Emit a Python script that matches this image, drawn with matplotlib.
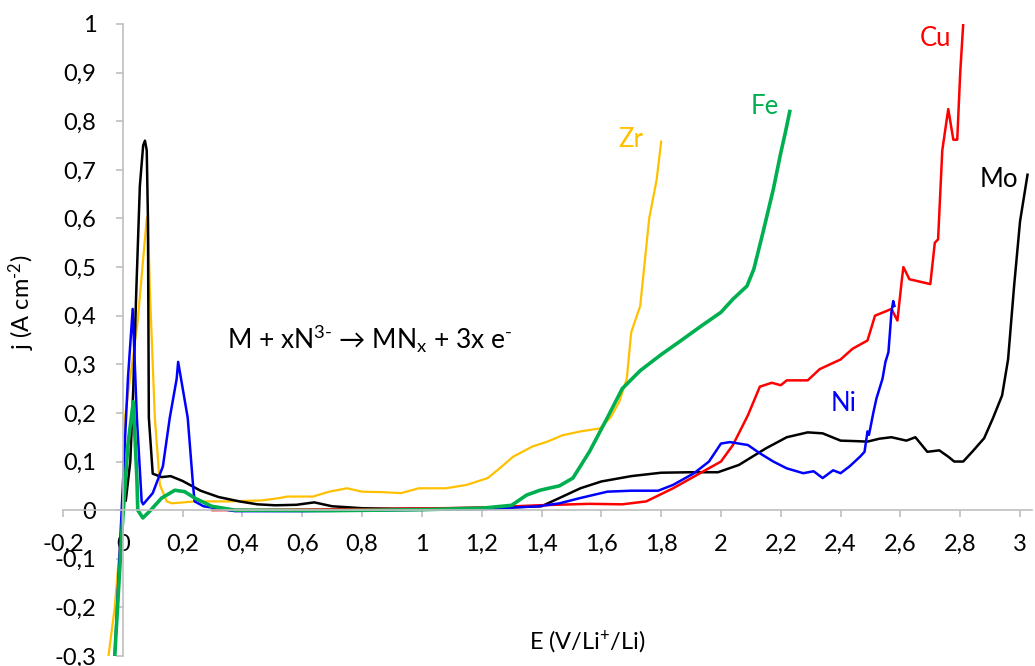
import matplotlib
matplotlib.use("Agg")
import matplotlib.pyplot as plt
from matplotlib.ticker import FuncFormatter, MultipleLocator

plt.rcParams['font.family'] = ['Lato', 'DejaVu Sans']
plt.rcParams['mathtext.fontset'] = 'custom'
plt.rcParams['mathtext.rm'] = 'Lato'
plt.rcParams['mathtext.it'] = 'Lato'
plt.rcParams['axes.unicode_minus'] = False

# Mo (black)
mo_x = [0.01, 0.025, 0.035, 0.045, 0.057, 0.068, 0.074, 0.08, 0.084, 0.087, 0.10, 0.13, 0.16,
        0.20, 0.26, 0.32, 0.39, 0.45, 0.51, 0.58, 0.64, 0.70, 0.80, 0.90, 1.0, 1.1, 1.2, 1.3,
        1.40, 1.46, 1.53, 1.60, 1.70, 1.80, 1.90, 1.99, 2.06, 2.15, 2.22, 2.29, 2.34, 2.40,
        2.45, 2.49, 2.53, 2.57, 2.62, 2.65, 2.69, 2.73, 2.76, 2.78, 2.81, 2.84, 2.88, 2.91,
        2.94, 2.96, 2.98, 3.0, 3.025]
mo_y = [0.02, 0.10, 0.25, 0.45, 0.667, 0.75, 0.76, 0.74, 0.60, 0.19, 0.075, 0.068, 0.07,
        0.06, 0.04, 0.027, 0.018, 0.012, 0.01, 0.011, 0.016, 0.008, 0.004, 0.003, 0.003, 0.004,
        0.005, 0.006, 0.008, 0.025, 0.045, 0.059, 0.07, 0.077, 0.078, 0.078, 0.093, 0.127,
        0.15, 0.16, 0.158, 0.143, 0.142, 0.141, 0.147, 0.15, 0.143, 0.15, 0.12, 0.123, 0.11,
        0.10, 0.10, 0.12, 0.148, 0.19, 0.236, 0.31, 0.46, 0.594, 0.69]

# Cu (red)
cu_x = [0.30, 0.8, 1.2, 1.39, 1.56, 1.67, 1.75, 1.84, 1.93, 2.0, 2.04, 2.09, 2.13, 2.17, 2.20,
        2.22, 2.29, 2.33, 2.40, 2.44, 2.49, 2.515, 2.555, 2.57, 2.59, 2.605, 2.61, 2.63, 2.70,
        2.715, 2.726, 2.74, 2.76, 2.777, 2.79, 2.80, 2.81]
cu_y = [0.0, 0.002, 0.005, 0.01, 0.013, 0.012, 0.018, 0.045, 0.076, 0.10, 0.134, 0.195, 0.254,
        0.262, 0.257, 0.267, 0.267, 0.29, 0.31, 0.332, 0.349, 0.40, 0.41, 0.414, 0.39, 0.475,
        0.50, 0.475, 0.465, 0.55, 0.557, 0.74, 0.825, 0.762, 0.762, 0.90, 1.0]

# Ni (blue)
ni_x = [-0.027, 0.0, 0.017, 0.033, 0.047, 0.063, 0.068, 0.10, 0.134, 0.157, 0.18, 0.185, 0.217,
        0.235, 0.24, 0.27, 0.375, 0.6, 0.9, 1.2, 1.39, 1.46, 1.53, 1.62, 1.70, 1.79, 1.84, 1.91,
        1.96, 2.0, 2.03, 2.09, 2.13, 2.175, 2.22, 2.275, 2.31, 2.34, 2.375, 2.40, 2.43, 2.465,
        2.48, 2.49, 2.495, 2.51, 2.52, 2.54, 2.55, 2.56, 2.57, 2.576, 2.58]
ni_y = [-0.30, 0.05, 0.27, 0.414, 0.19, 0.018, 0.012, 0.035, 0.09, 0.19, 0.27, 0.305, 0.19,
        0.05, 0.018, 0.008, -0.002, -0.002, 0.0, 0.002, 0.008, 0.014, 0.025, 0.038, 0.04, 0.04,
        0.052, 0.076, 0.10, 0.137, 0.14, 0.134, 0.117, 0.10, 0.086, 0.076, 0.08, 0.066, 0.082,
        0.076, 0.09, 0.11, 0.12, 0.162, 0.155, 0.202, 0.23, 0.27, 0.305, 0.325, 0.407, 0.43, 0.42]

# Fe (green)
fe_x = [-0.027, -0.003, 0.017, 0.035, 0.047, 0.05, 0.067, 0.09, 0.13, 0.174, 0.207, 0.24, 0.297,
        0.375, 0.7, 1.0, 1.2, 1.30, 1.35, 1.395, 1.46, 1.505, 1.56, 1.62, 1.67, 1.73, 1.80, 1.86,
        1.93, 2.0, 2.04, 2.087, 2.11, 2.14, 2.175, 2.20, 2.215, 2.23]
fe_y = [-0.30, -0.043, 0.134, 0.223, 0.066, 0.0, -0.016, -0.002, 0.025, 0.041, 0.038, 0.025,
        0.008, 0.0, -0.001, 0.001, 0.004, 0.01, 0.031, 0.041, 0.05, 0.066, 0.12, 0.19, 0.25,
        0.287, 0.32, 0.346, 0.377, 0.407, 0.434, 0.461, 0.496, 0.57, 0.66, 0.735, 0.776, 0.82]

# Zr (yellow)
zr_x = [-0.05, -0.027, 0.0, 0.007, 0.05, 0.08, 0.084, 0.09, 0.107, 0.124, 0.147, 0.164, 0.24,
        0.35, 0.465, 0.525, 0.55, 0.636, 0.69, 0.75, 0.80, 0.87, 0.93, 0.99, 1.08, 1.15, 1.22,
        1.26, 1.305, 1.37, 1.42, 1.47, 1.53, 1.595, 1.63, 1.66, 1.685, 1.70, 1.73, 1.76, 1.785,
        1.80]
zr_y = [-0.31, -0.2, 0.0, 0.19, 0.39, 0.60, 0.605, 0.46, 0.19, 0.052, 0.018, 0.014, 0.018,
        0.018, 0.02, 0.025, 0.028, 0.028, 0.038, 0.045, 0.038, 0.037, 0.035, 0.045, 0.045,
        0.052, 0.066, 0.086, 0.11, 0.131, 0.141, 0.154, 0.162, 0.168, 0.19, 0.223, 0.27, 0.366,
        0.42, 0.60, 0.68, 0.758]

fig = plt.figure(figsize=(10.35, 6.66), dpi=100)
ax = fig.add_axes([63 / 1035, 10 / 666, 969 / 1035, 632 / 666])

ax.plot(zr_x, zr_y, color='#FFC000', lw=1.6)
ax.plot(mo_x, mo_y, color='black', lw=1.8)
ax.plot(cu_x, cu_y, color='#FF0000', lw=1.8)
ax.plot(ni_x, ni_y, color='#0000FF', lw=1.8)
ax.plot(fe_x, fe_y, color='#00B050', lw=2.6)

ax.set_xlim(-0.2, 3.04)
ax.set_ylim(-0.3, 1.0)

for s in ['top', 'right']:
    ax.spines[s].set_visible(False)
ax.spines['left'].set_position(('data', 0))
ax.spines['bottom'].set_position(('data', 0))
for s in ['left', 'bottom']:
    ax.spines[s].set_color('#BFBFBF')
    ax.spines[s].set_linewidth(1.2)

ax.xaxis.set_major_locator(MultipleLocator(0.2))
ax.yaxis.set_major_locator(MultipleLocator(0.1))
fmt = FuncFormatter(lambda v, p: f"{round(v, 2):g}".replace('.', ','))
ax.xaxis.set_major_formatter(fmt)
ax.yaxis.set_major_formatter(fmt)
ax.tick_params(axis='both', colors='#BFBFBF', labelcolor='black', labelsize=17, length=5, width=1.2)
ax.tick_params(axis='y', pad=14)
ax.tick_params(axis='x', pad=12)

fig.text(22 / 1035, 1 - 302 / 666, 'j (A cm$^{\u20102}$)', rotation=90, ha='center', va='center', fontsize=17)
fig.text(587 / 1035, 1 - 642 / 666, 'E (V/Li$^{+}$/Li)', ha='center', va='center', fontsize=17)

ax.text(0.35, 0.352, 'M + xN$^{3\u2010}$ \u2192 MN$_{x}$ + 3x e$^{\u2010}$', fontsize=19, va='center', ha='left')

ax.text(2.716, 0.971, 'Cu', color='#FF0000', fontsize=18.5, ha='center', va='center')
ax.text(2.147, 0.83, 'Fe', color='#00B050', fontsize=18.5, ha='center', va='center')
ax.text(1.70, 0.762, 'Zr', color='#FFC000', fontsize=18.5, ha='center', va='center')
ax.text(2.93, 0.68, 'Mo', color='black', fontsize=18.5, ha='center', va='center')
ax.text(2.41, 0.219, 'Ni', color='#0000FF', fontsize=18.5, ha='center', va='center')

fig.savefig('out.png', dpi=100)
